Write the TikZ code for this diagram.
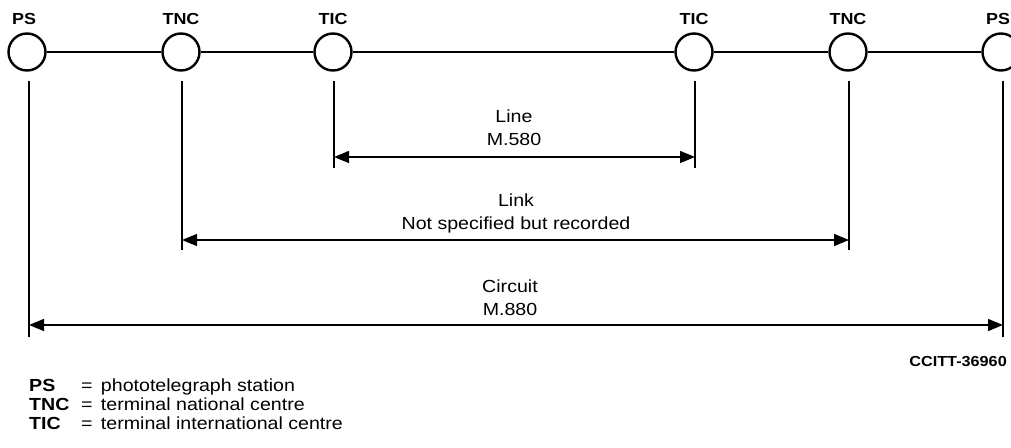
\documentclass[tikz,border=0pt]{standalone}
\usepackage{fontspec}
\setmainfont{Liberation Sans}[FakeStretch=1.12,BoldFeatures={FakeStretch=1.12}]
\usetikzlibrary{arrows.meta}
\begin{document}
\begin{tikzpicture}[x=1pt,y=-1pt,
  station/.style={circle,draw,line width=2.4pt,minimum size=37pt,inner sep=0pt,fill=white},
  toplabel/.style={font=\fontsize{16}{16}\selectfont\bfseries,inner sep=0pt},
  trunk/.style={line width=2.8pt},
  tick/.style={line width=1.6pt},
  dim/.style={line width=1.4pt,{Triangle[length=15pt,width=12pt]}-{Triangle[length=15pt,width=12pt]}},
  dimlabel/.style={font=\fontsize{17.5}{23}\selectfont,align=center,inner sep=0pt},
  legend/.style={font=\fontsize{17.5}{19}\selectfont,anchor=base west,inner sep=0pt}]
\useasboundingbox (0,0) rectangle (1011,447);
\clip (0,0) rectangle (1011,447);
% stations
\node[station] (ps1)  at (27,52)  {};
\node[station] (tnc1) at (181,52) {};
\node[station] (tic1) at (333,52) {};
\node[station] (tic2) at (694,52) {};
\node[station] (tnc2) at (848,52) {};
\node[station] (ps2)  at (1001,52) {};
% trunk
\draw[trunk] (ps1) -- (tnc1);
\draw[trunk] (tnc1) -- (tic1);
\draw[trunk] (tic1) -- (tic2);
\draw[trunk] (tic2) -- (tnc2);
\draw[trunk] (tnc2) -- (ps2);
% top labels
\node[toplabel] (lps1)  at (24,19)  {PS};
\node[toplabel] (ltnc1) at (181,19) {TNC};
\node[toplabel] (ltic1) at (333,19) {TIC};
\node[toplabel] (ltic2) at (694,19) {TIC};
\node[toplabel] (ltnc2) at (848,19) {TNC};
\node[toplabel] (lps2)  at (998,19) {PS};
% vertical ticks
\coordinate (ps1t) at (29,81);   \coordinate (ps1b) at (29,337);
\coordinate (ps2t) at (1003,81); \coordinate (ps2b) at (1003,337);
\coordinate (tnc1t) at (182,81); \coordinate (tnc1b) at (182,250);
\coordinate (tnc2t) at (849,81); \coordinate (tnc2b) at (849,250);
\coordinate (tic1t) at (334,81); \coordinate (tic1b) at (334,168);
\coordinate (tic2t) at (695,81); \coordinate (tic2b) at (695,168);
\foreach \n in {ps1,ps2,tnc1,tnc2,tic1,tic2} {\draw[tick] (\n t) -- (\n b);}
% dimension arrows
\coordinate (la) at (334,157);  \coordinate (lb) at (695,157);
\coordinate (ka) at (182,240);  \coordinate (kb) at (849,240);
\coordinate (ca) at (29,325);   \coordinate (cb) at (1003,325);
\draw[dim] (la) -- (lb);
\draw[dim] (ka) -- (kb);
\draw[dim] (ca) -- (cb);
% labels
\node[dimlabel] (linelab) at (514,128) {Line\\M.580};
\node[dimlabel] (linklab) at (516,213) {Link\\Not specified but recorded};
\node[dimlabel] (circlab) at (510,298) {Circuit\\M.880};
\node[font=\fontsize{14.5}{14.5}\selectfont\bfseries,anchor=east,inner sep=0pt] (ref) at (1007,362) {CCITT-36960};
% legend
\node[legend] (k1) at (29,391) {\textbf{PS}};
\node[legend] (k2) at (29,410) {\textbf{TNC}};
\node[legend] (k3) at (29,429) {\textbf{TIC}};
\node[legend] (e1) at (81,391) {=\ \,phototelegraph station};
\node[legend] (e2) at (81,410) {=\ \,terminal national centre};
\node[legend] (e3) at (81,429) {=\ \,terminal international centre};
\end{tikzpicture}
\end{document}
